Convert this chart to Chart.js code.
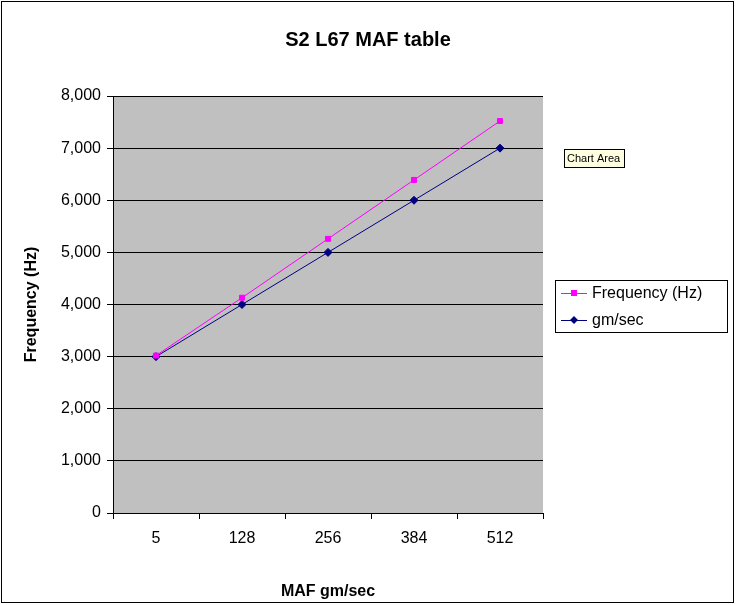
<!DOCTYPE html>
<html><head><meta charset="utf-8">
<script src="https://cdn.jsdelivr.net/npm/chart.js@4/dist/chart.umd.min.js"></script>
<style>html,body{margin:0;padding:0;background:#fff}#c{display:block}</style>
</head><body>
<canvas id="c" width="736" height="605"></canvas>
<script>
const categories = ['5','128','256','384','512'];
const frequencyHz = [3020, 4130, 5260, 6390, 7520];
const gmPerSec = [3000, 4000, 5000, 6000, 7000];
const seriesNames = ['Frequency (Hz)', 'gm/sec'];
const titleText = 'S2 L67 MAF table';

const deco = {
  id: 'deco',
  beforeDraw(chart) {
    const ctx = chart.ctx, a = chart.chartArea;
    ctx.save();
    ctx.fillStyle = '#fff'; ctx.fillRect(0,0,chart.width,chart.height);
    ctx.fillStyle = '#c0c0c0'; ctx.fillRect(a.left, a.top, a.right-a.left, a.bottom-a.top);
    ctx.restore();
  },
  afterDraw(chart) {
    const ctx = chart.ctx, a = chart.chartArea;
    ctx.save();
    ctx.strokeStyle = '#000'; ctx.lineWidth = 1;
    ctx.strokeRect(1.5, 1.5, chart.width-4, chart.height-4);
    ctx.beginPath(); ctx.moveTo(a.left+0.5, a.top); ctx.lineTo(a.left+0.5, a.bottom+0.5); ctx.lineTo(a.right, a.bottom+0.5); ctx.stroke();
    ctx.fillStyle = '#000'; ctx.font = 'bold 20px Arial, "Liberation Sans"'; ctx.textAlign = 'center'; ctx.textBaseline = 'middle';
    ctx.fillText(titleText, 368, 40);
    // legend
    ctx.strokeRect(555.5, 280.5, 172, 52);
    ctx.font = '16px Arial, "Liberation Sans"'; ctx.textAlign = 'left';
    const ys = [293, 320], cols = ['#ff00ff', '#000080'];
    ys.forEach((y, i) => {
      ctx.strokeStyle = cols[i]; ctx.beginPath(); ctx.moveTo(561, y+0.5); ctx.lineTo(587, y+0.5); ctx.stroke();
      ctx.fillStyle = cols[i];
      if (i === 0) ctx.fillRect(571, y-3, 6, 6);
      else { ctx.beginPath(); ctx.moveTo(574, y-4); ctx.lineTo(578, y); ctx.lineTo(574, y+4); ctx.lineTo(570, y); ctx.closePath(); ctx.fill(); }
      ctx.fillStyle = '#000'; ctx.fillText(seriesNames[i], 592, y+1);
    });
    // "Chart Area" tooltip
    ctx.fillStyle = '#ffffe1'; ctx.fillRect(564, 149, 60, 18);
    ctx.strokeStyle = '#000'; ctx.strokeRect(564.5, 149.5, 60, 18);
    ctx.fillStyle = '#000'; ctx.font = '11px Arial, "Liberation Sans"'; ctx.fillText('Chart Area', 567, 159);
    ctx.restore();
  }
};

new Chart(document.getElementById('c'), {
  type: 'line',
  data: {
    labels: categories,
    datasets: [
      { label: seriesNames[0], data: frequencyHz, borderColor: '#ff00ff', backgroundColor: '#ff00ff', borderWidth: 1, pointStyle: 'rect', pointRadius: 3.5, tension: 0 },
      { label: seriesNames[1], data: gmPerSec, borderColor: '#000080', backgroundColor: '#000080', borderWidth: 1, pointStyle: 'rectRot', pointRadius: 4, tension: 0 }
    ]
  },
  plugins: [deco],
  options: {
    responsive: false, animation: false,
    layout: { padding: { top: 96, right: 193, left: 0, bottom: 0 } },
    plugins: { legend: { display: false }, tooltip: { enabled: false }, title: { display: false } },
    scales: {
      x: {
        offset: true,
        grid: { offset: true, drawOnChartArea: false, color: '#000', tickLength: 6, tickColor: '#000' },
        border: { display: false },
        ticks: { color: '#000', font: { size: 16, family: 'Arial, "Liberation Sans"' }, padding: 10 },
        title: { display: true, text: 'MAF gm/sec', color: '#000', font: { size: 16, weight: 'bold', family: 'Arial, "Liberation Sans"' }, padding: { top: 8 } },
        afterFit(s) { s.height = 92; }
      },
      y: {
        min: 0, max: 8000,
        grid: { color: '#000', tickLength: 6, tickColor: '#000' },
        border: { display: false },
        ticks: { stepSize: 1000, color: '#000', font: { size: 16, family: 'Arial, "Liberation Sans"' }, padding: 6 },
        title: { display: true, text: 'Frequency (Hz)', color: '#000', font: { size: 16, weight: 'bold', family: 'Arial, "Liberation Sans"' }, padding: { top: 22 } },
        afterFit(s) { s.width = 113; }
      }
    }
  }
});
</script>
</body></html>
